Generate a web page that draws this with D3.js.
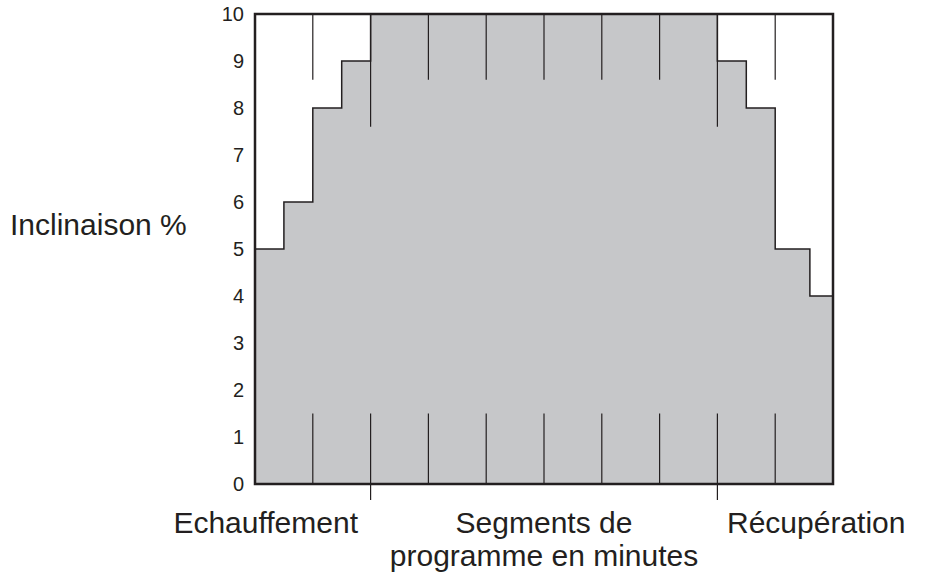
<!DOCTYPE html>
<html><head><meta charset="utf-8">
<script src="https://cdn.jsdelivr.net/npm/d3@7"></script>
<style>body{margin:0;background:#fff}text{font-family:"Liberation Sans",Arial,sans-serif;fill:#231f20}</style>
</head><body><svg id="c" width="926" height="581"></svg>
<script>
// step profile: start time (half-minutes) and incline
var stepStarts = [0, 1, 2, 3, 4, 16, 17, 18, 19.2]
var stepValues = [5, 6, 8, 9, 10, 9, 8, 5, 4]
var yTicks = [0,1,2,3,4,5,6,7,8,9,10]
var segLines = [2, 4, 6, 8, 10, 12, 14, 16, 18]   // segment boundaries
var longLines = [4, 16]                           // warm-up / recovery boundaries

var svg = d3.select("#c")
var x = d3.scaleLinear().domain([0,20]).range([255,833])
var y = d3.scaleLinear().domain([0,10]).range([484,14])

var pts = []
stepStarts.forEach(function(s,i){
    var e = i < stepStarts.length-1 ? stepStarts[i+1] : 20
    pts.push([s,stepValues[i]]); pts.push([e,stepValues[i]])
})
var area = d3.area().x(function(d){return x(d[0])}).y0(y(0)).y1(function(d){return y(d[1])})
svg.append("path").attr("d",area(pts)).attr("fill","#c6c7c9")
var line = d3.line().x(function(d){return x(d[0])}).y(function(d){return y(d[1])})
svg.append("path").attr("d",line([[0,3]].concat(pts).concat([[20,0]]))).attr("fill","none").attr("stroke","#231f20").attr("stroke-width",1.5)

// partial segment lines
segLines.forEach(function(s){
    var isLong = longLines.indexOf(s) >= 0
    svg.append("line").attr("x1",x(s)).attr("x2",x(s)).attr("y1",y(10)).attr("y2",y(isLong?7.6:8.6))
        .attr("stroke","#231f20").attr("stroke-width",1.2)
    svg.append("line").attr("x1",x(s)).attr("x2",x(s)).attr("y1",y(1.5)).attr("y2",isLong?500:y(0))
        .attr("stroke","#231f20").attr("stroke-width",1.2)
})

svg.append("rect").attr("x",x(0)).attr("y",y(10)).attr("width",x(20)-x(0)).attr("height",y(0)-y(10))
    .attr("fill","none").attr("stroke","#231f20").attr("stroke-width",2.5)

svg.selectAll(".yt").data(yTicks).enter().append("text")
    .attr("x",244).attr("y",function(d){return y(d)+7}).attr("text-anchor","end")
    .attr("font-size",20).text(function(d){return d})

svg.append("text").attr("x",10).attr("y",235).attr("font-size",30).text("Inclinaison %")
svg.append("text").attr("x",358).attr("y",533).attr("font-size",30).attr("text-anchor","end").text("Echauffement")
svg.append("text").attr("x",544).attr("y",533).attr("font-size",30).attr("text-anchor","middle").text("Segments de")
svg.append("text").attr("x",544).attr("y",566).attr("font-size",30).attr("text-anchor","middle").text("programme en minutes")
svg.append("text").attr("x",727).attr("y",533).attr("font-size",30).text("Récupération")
</script></body></html>
